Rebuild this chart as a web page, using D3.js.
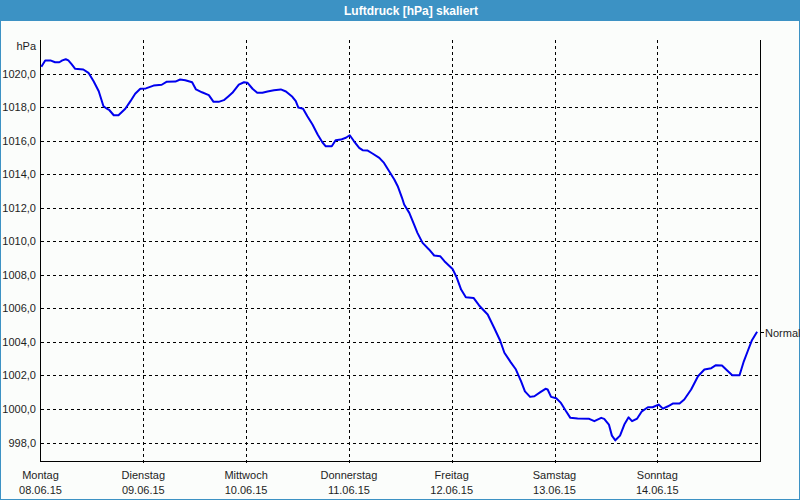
<!DOCTYPE html>
<html>
<head>
<meta charset="utf-8">
<script src="https://cdn.jsdelivr.net/npm/d3@7"></script>
<style>
  html, body { margin: 0; padding: 0; background: #fbfdfb; }
  svg { display: block; }
  text { font-family: "Liberation Sans", Arial, sans-serif; }
</style>
</head>
<body>
<script>
// ---- data ----
const title = "Luftdruck [hPa] skaliert";
const unitLabel = "hPa";
const seriesName = "Normal";
const startDate = Date.UTC(2015, 5, 8);   // Montag 08.06.15 00:00
const dayNames = ["Montag", "Dienstag", "Mittwoch", "Donnerstag", "Freitag", "Samstag", "Sonntag"];
const dayDates = ["08.06.15", "09.06.15", "10.06.15", "11.06.15", "12.06.15", "13.06.15", "14.06.15"];
const yTicks = [998, 1000, 1002, 1004, 1006, 1008, 1010, 1012, 1014, 1016, 1018, 1020];
// hours since start of Monday
const hours = [
  0.2, 1.1, 2.3, 3.4, 4.4, 5.1, 5.9, 6.5, 7.3, 8.1, 10.0, 11.2, 12.4, 13.6, 14.7, 15.5, 16.1, 17.1, 18.2, 19.8,
  21.0, 22.1, 23.3, 24.6, 26.4, 28.3, 29.5, 31.5, 32.6, 33.8, 35.4, 36.3, 37.7, 39.3, 40.4, 41.6, 42.8, 43.9,
  44.8, 46.3, 47.5, 48.3, 49.5, 50.6, 51.8, 53.0, 54.5, 56.1, 57.3, 58.8, 59.6, 60.2, 61.3, 62.3, 63.5, 64.7,
  65.8, 66.6, 68.0, 68.9, 70.1, 71.3, 72.2, 73.2, 74.4, 75.2, 76.3, 77.5, 79.1, 80.2, 81.4, 82.6, 83.4, 84.4,
  84.9, 86.1, 87.2, 88.0, 89.2, 90.7, 91.9, 93.3, 94.3, 96.2, 97.2, 98.2, 99.3, 101.1, 102.4, 104.4, 105.9,
  107.3, 108.3, 109.8, 111.0, 112.2, 113.1, 114.3, 115.3, 116.7, 117.9, 118.4, 119.2, 120.4, 121.5, 122.7,
  123.7, 125.4, 128.1, 129.3, 130.9, 131.6, 132.7, 133.4, 134.2, 135.3, 136.3, 137.3, 138.1, 139.3, 140.4,
  141.8, 142.9, 144.3, 145.3, 146.5, 147.6, 149.2, 150.3, 151.9, 153.5, 155.0, 156.6, 157.7, 159.1, 160.5,
  161.5, 163.2, 164.2, 165.1, 166.1, 167.3
];
const pressure = [
  1020.40, 1020.78, 1020.78, 1020.67, 1020.67, 1020.78, 1020.85, 1020.78, 1020.54, 1020.28, 1020.24, 1020.04,
  1019.54, 1018.94, 1018.05, 1017.90, 1017.81, 1017.51, 1017.51, 1017.90, 1018.35, 1018.79, 1019.09, 1019.11,
  1019.28, 1019.33, 1019.51, 1019.52, 1019.64, 1019.60, 1019.48, 1019.05, 1018.88, 1018.71, 1018.31, 1018.31,
  1018.41, 1018.65, 1018.85, 1019.34, 1019.48, 1019.45, 1019.09, 1018.85, 1018.85, 1018.93, 1019.00, 1019.05,
  1018.93, 1018.61, 1018.35, 1017.97, 1017.90, 1017.45, 1016.96, 1016.36, 1015.90, 1015.66, 1015.66, 1016.02,
  1016.06, 1016.17, 1016.32, 1015.96, 1015.57, 1015.43, 1015.41, 1015.23, 1014.97, 1014.67, 1014.17, 1013.68,
  1013.28, 1012.59, 1012.19, 1011.69, 1011.00, 1010.50, 1009.90, 1009.51, 1009.15, 1009.11, 1008.81, 1008.35,
  1007.82, 1007.12, 1006.66, 1006.62, 1006.17, 1005.63, 1004.84, 1004.08, 1003.35, 1002.78, 1002.35, 1001.65,
  1001.05, 1000.72, 1000.76, 1001.00, 1001.20, 1001.16, 1000.72, 1000.64, 1000.36, 999.86, 999.47, 999.43,
  999.41, 999.27, 999.47, 999.41, 999.07, 998.41, 998.13, 998.41, 999.07, 999.50, 999.27, 999.43, 999.86,
  1000.10, 1000.10, 1000.26, 1000.02, 1000.16, 1000.32, 1000.32, 1000.56, 1001.16, 1001.95, 1002.35, 1002.43,
  1002.61, 1002.59, 1002.25, 1002.01, 1002.01, 1002.84, 1003.44, 1004.10, 1004.60
];

// ---- layout ----
const W = 800, H = 500;
const plotTop = 40, plotBottom = 461, plotLeft = 40.5, plotRight = 760.5;
const HOUR = 3600 * 1000;

const svg = d3.select("body").append("svg").attr("width", W).attr("height", H);

// frame
svg.append("rect").attr("x", 0).attr("y", 0).attr("width", W).attr("height", H).attr("fill", "#fbfdfb");
svg.append("rect").attr("x", 0.5).attr("y", 0.5).attr("width", W - 1).attr("height", H - 1)
  .attr("fill", "none").attr("stroke", "#3c92c4").attr("stroke-width", 1);
svg.append("rect").attr("x", 0).attr("y", 0).attr("width", W).attr("height", 21).attr("fill", "#3c92c4");
svg.append("text").attr("x", 411).attr("y", 15).attr("text-anchor", "middle")
  .attr("fill", "#ffffff").attr("font-weight", "bold").attr("font-size", 12).text(title);

const x = d3.scaleUtc()
  .domain([new Date(startDate), new Date(startDate + 7 * 24 * HOUR)])
  .range([40.5, 760.1]);
const y = d3.scaleLinear().domain([998, 1020]).range([442.5, 73.5]);

const dayTicks = dayNames.map((d, i) => new Date(startDate + i * 24 * HOUR));

// horizontal grid
svg.append("g").selectAll("line").data(yTicks).join("line")
  .attr("x1", plotLeft).attr("x2", plotRight)
  .attr("y1", d => Math.round(y(d)) + 0.5).attr("y2", d => Math.round(y(d)) + 0.5)
  .attr("stroke", "#000").attr("stroke-width", 1).attr("stroke-dasharray", "3,3")
  .attr("shape-rendering", "crispEdges");

// vertical grid (days)
svg.append("g").selectAll("line").data(dayTicks.slice(1)).join("line")
  .attr("x1", d => Math.round(x(d)) + 0.5).attr("x2", d => Math.round(x(d)) + 0.5)
  .attr("y1", plotTop).attr("y2", plotBottom + 2)
  .attr("stroke", "#000").attr("stroke-width", 1).attr("stroke-dasharray", "3,3")
  .attr("shape-rendering", "crispEdges");

// axes lines
const axisG = svg.append("g").attr("stroke", "#000").attr("stroke-width", 1).attr("shape-rendering", "crispEdges");
axisG.append("line").attr("x1", plotLeft).attr("x2", plotLeft).attr("y1", plotTop).attr("y2", plotBottom + 0.5);
axisG.append("line").attr("x1", plotLeft).attr("x2", plotRight + 0.5).attr("y1", plotBottom + 0.5).attr("y2", plotBottom + 0.5);
axisG.append("line").attr("x1", plotRight).attr("x2", plotRight).attr("y1", plotTop).attr("y2", plotBottom + 0.5);

// y labels
svg.append("g").selectAll("text").data(yTicks).join("text")
  .attr("x", 36).attr("y", d => y(d) + 4).attr("text-anchor", "end")
  .attr("font-size", 11).attr("fill", "#1e1e1e")
  .text(d => d3.format(".1f")(d).replace(".", ","));
svg.append("text").attr("x", 36).attr("y", 50).attr("text-anchor", "end")
  .attr("font-size", 11).attr("fill", "#1e1e1e").text(unitLabel);

// x labels
const xl = svg.append("g");
xl.selectAll("text.day").data(dayTicks).join("text").attr("class", "day")
  .attr("x", d => x(d)).attr("y", 479).attr("text-anchor", "middle")
  .attr("font-size", 11).attr("fill", "#1e1e1e").text((d, i) => dayNames[i]);
xl.selectAll("text.date").data(dayTicks).join("text").attr("class", "date")
  .attr("x", d => x(d)).attr("y", 494).attr("text-anchor", "middle")
  .attr("font-size", 11).attr("fill", "#1e1e1e").text((d, i) => dayDates[i]);

// series
const data = hours.map((h, i) => ({ t: new Date(startDate + h * HOUR), v: pressure[i] }));
const line = d3.line().x(d => x(d.t)).y(d => y(d.v));
svg.append("path").datum(data).attr("d", line)
  .attr("fill", "none").attr("stroke", "#0000ee").attr("stroke-width", 2)
  .attr("stroke-linejoin", "round");

// series label at right
const last = data[data.length - 1];
const ly = Math.round(y(last.v)) + 0.5;
svg.append("line").attr("x1", plotRight).attr("x2", plotRight + 3).attr("y1", ly).attr("y2", ly)
  .attr("stroke", "#000").attr("shape-rendering", "crispEdges");
svg.append("text").attr("x", 765).attr("y", ly + 4).attr("font-size", 11).attr("fill", "#1e1e1e").text(seriesName);
</script>
</body>
</html>
